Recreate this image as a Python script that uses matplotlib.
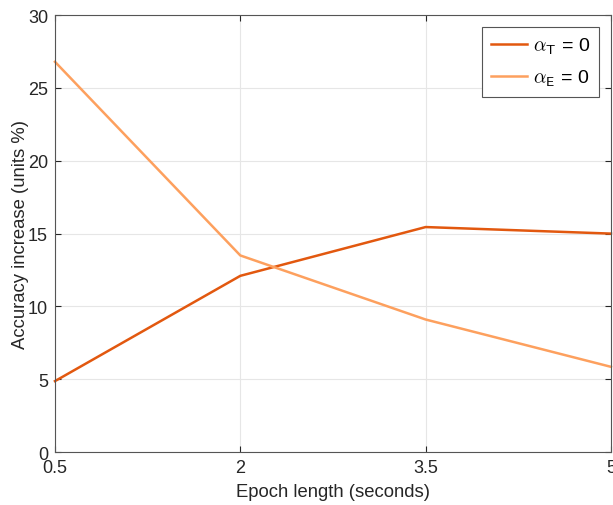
import matplotlib
matplotlib.use("Agg")
import matplotlib.pyplot as plt

plt.rcParams['font.family'] = ['Liberation Sans', 'DejaVu Sans']
plt.rcParams['mathtext.fontset'] = 'cm'

# Data
epoch_len = [0.5, 2, 3.5, 5]
alpha_t = [4.87, 12.1, 15.45, 15.0]
alpha_e = [26.8, 13.5, 9.1, 5.85]
x_ticks = [0.5, 2, 3.5, 5]
y_ticks = [0, 5, 10, 15, 20, 25, 30]

fig = plt.figure(figsize=(6.13, 5.06), dpi=100)
ax = fig.add_axes([0.0897, 0.1047, 0.9070, 0.8633])

ax.plot(epoch_len, alpha_t, color='#E2580F', lw=1.8, label=r'$\alpha_{\mathsf{T}}$ = 0', clip_on=False)
ax.plot(epoch_len, alpha_e, color='#FDA05E', lw=1.8, label=r'$\alpha_{\mathsf{E}}$ = 0', clip_on=False)

ax.set_xlim(0.5, 5)
ax.set_ylim(0, 30)
ax.set_xticks(x_ticks)
ax.set_xticklabels(['0.5', '2', '3.5', '5'])
ax.set_yticks(y_ticks)
ax.grid(True, color='#e6e6e6', lw=0.8)
ax.set_axisbelow(True)
ax.tick_params(direction='in', length=4, labelsize=13, colors='#262626', top=True, right=True)
ax.tick_params(axis='x', pad=5)
ax.tick_params(axis='y', pad=5)
for s in ax.spines.values():
    s.set_color('#555555')
    s.set_linewidth(0.8)

ax.set_xlabel('Epoch length (seconds)', fontsize=13.3, color='#262626', labelpad=5)
ax.set_ylabel('Accuracy increase (units %)', fontsize=13.3, color='#262626', labelpad=-1)

leg = ax.legend(loc='upper right', fontsize=14, fancybox=False, framealpha=1,
                edgecolor='#555555', borderaxespad=0.6, handlelength=1.9,
                handletextpad=0.3, borderpad=0.45, labelspacing=0.6)
leg.get_frame().set_linewidth(0.8)

fig.savefig('out.png', dpi=100)
